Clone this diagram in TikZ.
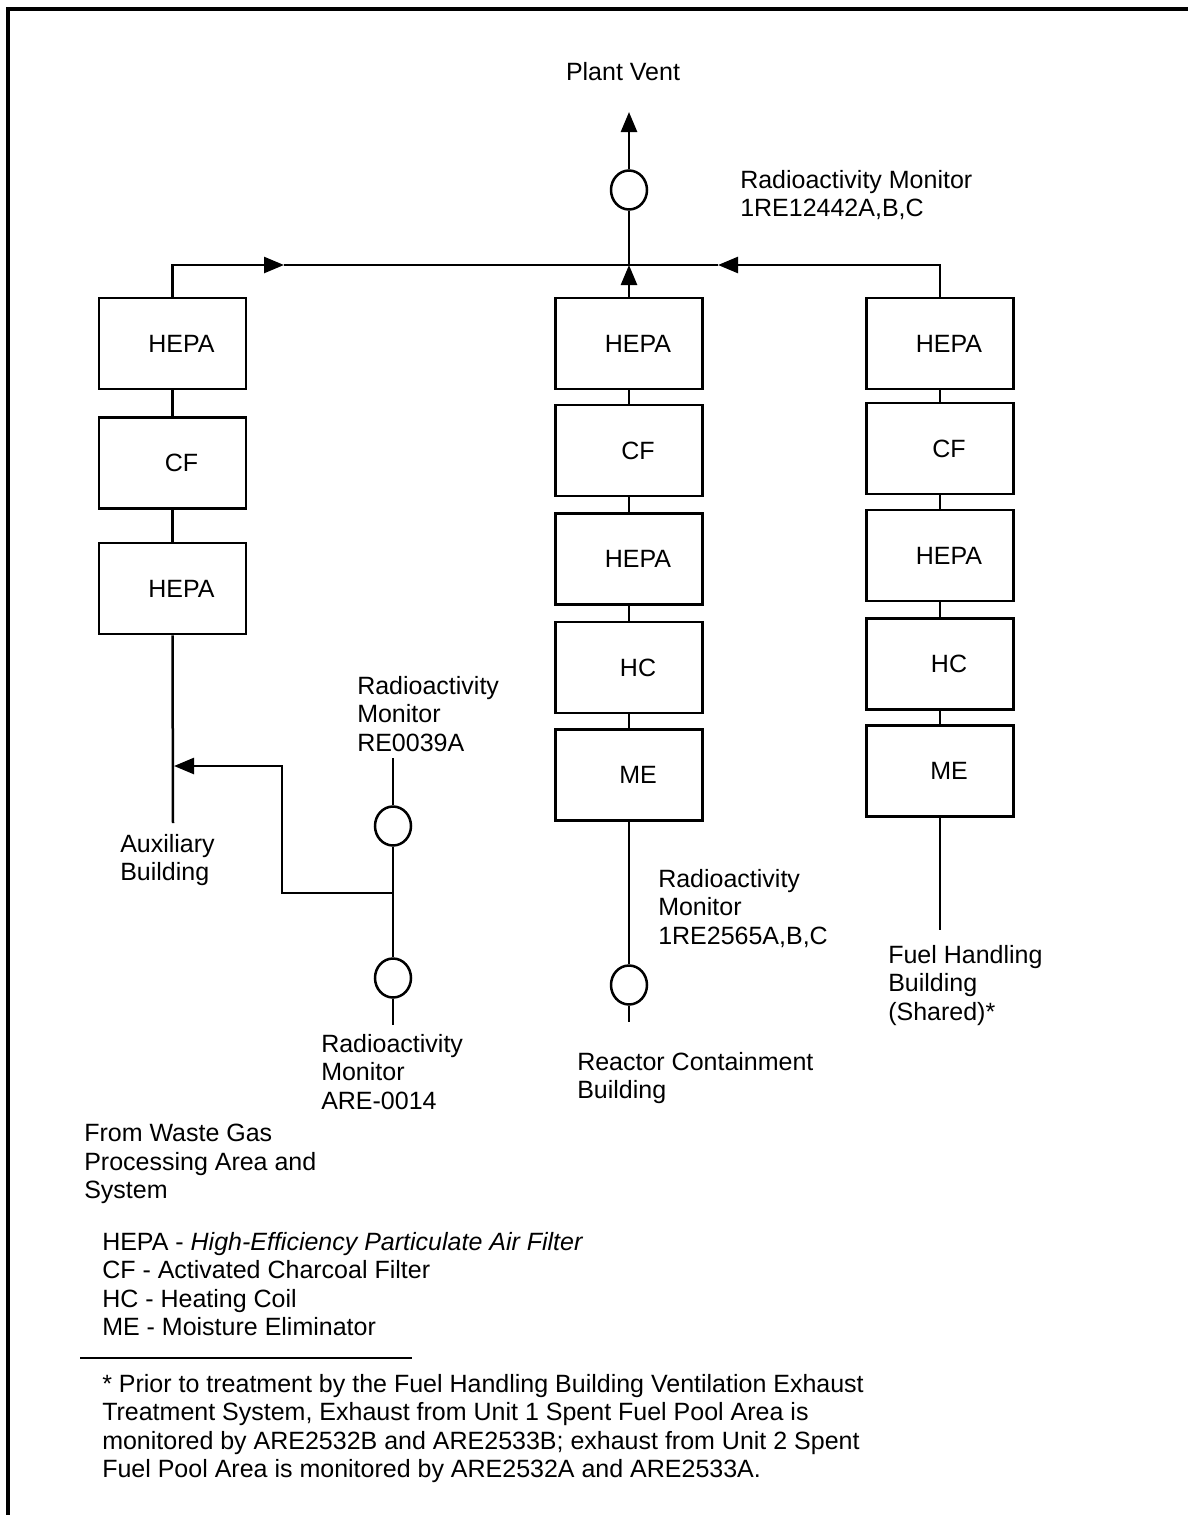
\documentclass[tikz,border=0pt]{standalone}
\usepackage{fontspec}
\setmainfont{Liberation Sans}
\usetikzlibrary{arrows.meta,shapes.geometric}
\begin{document}
\begin{tikzpicture}[x=0.5pt,y=-0.5pt,
  line width=1.25pt,
  txt/.style={font=\fontsize{12.5}{14.25}\selectfont},
  box/.style={draw,rectangle,minimum width=73.5pt,minimum height=45.5pt,inner sep=0pt,txt},
  mon/.style={draw,ellipse,minimum width=18pt,minimum height=19.5pt,inner sep=0pt},
  lbl/.style={anchor=north west,align=left,inner sep=0pt,txt},
  tri/.style={-{Triangle[length=10pt,width=8pt]}},
]
\useasboundingbox (0,0) rectangle (1188,1515);
% frame
\draw[line width=1.6pt] (8,1515) -- (8,9) -- (1188,9);

% left column
\node[box] (L1) at (172.5,343.5) {\hspace*{9pt}HEPA};
\node[box] (L2) at (172.5,463) {\hspace*{9pt}CF};
\node[box] (L3) at (172.5,588.5) {\hspace*{9pt}HEPA};
% center column
\node[box] (C1) at (629,343.5) {\hspace*{9pt}HEPA};
\node[box] (C2) at (629,450.5) {\hspace*{9pt}CF};
\node[box] (C3) at (629,559) {\hspace*{9pt}HEPA};
\node[box] (C4) at (629,667.5) {\hspace*{9pt}HC};
\node[box] (C5) at (629,775) {\hspace*{9pt}ME};
% right column
\node[box] (R1) at (940,343.5) {\hspace*{9pt}HEPA};
\node[box] (R2) at (940,448.5) {\hspace*{9pt}CF};
\node[box] (R3) at (940,555.5) {\hspace*{9pt}HEPA};
\node[box] (R4) at (940,664) {\hspace*{9pt}HC};
\node[box] (R5) at (940,771) {\hspace*{9pt}ME};

% monitors
\node[mon] (mtop) at (629,190) {};
\node[mon] (m39) at (393,826) {};
\node[mon] (m14) at (393,978) {};
\node[mon] (mrc) at (629,985) {};

% coordinates
\coordinate (jc) at (629,265);
\coordinate (vent) at (629,112);
\coordinate (aL) at (284,265);
\coordinate (aR) at (718,265);
\coordinate (auxend) at (173,823);
\coordinate (ta) at (174,766);
\coordinate (k1) at (282,766);
\coordinate (jm) at (393,893);
\coordinate (m39top) at (393,758);
\coordinate (m14bot) at (393,1025);
\coordinate (rcbot) at (629,1022);
\coordinate (fhend) at (940,930);

% column links
\draw (L1) -- (L2); \draw (L2) -- (L3);
\draw (C1) -- (C2); \draw (C2) -- (C3); \draw (C3) -- (C4); \draw (C4) -- (C5);
\draw (R1) -- (R2); \draw (R2) -- (R3); \draw (R3) -- (R4); \draw (R4) -- (R5);

% header
\draw[tri] (L1.north) |- (aL);
\draw (aL) -- (jc);
\draw[tri] (R1.north) |- (aR);
\draw (aR) -- (jc);
\draw[tri] (C1.north) -- (jc);
\draw (jc) -- (mtop.south);
\draw[tri] (mtop.north) -- (vent);

% auxiliary building
\draw (L3.south) -- (auxend);
\draw[tri] (jm) -| (k1) -- (ta);
\draw (m39top) -- (m39.north);
\draw (m39.south) -- (m14.north);
\draw (m14.south) -- (m14bot);

% reactor containment
\draw (C5.south) -- (mrc.north);
\draw (mrc.south) -- (rcbot);

% fuel handling
\draw (R5.south) -- (fhend);

% labels
\node[txt,anchor=north,inner sep=0pt] (tvent) at (623,61) {Plant Vent};
\node[lbl] (tm1) at (739,169) {Radioactivity Monitor\\1RE12442A,B,C};
\node[lbl] (tm39) at (356,675) {Radioactivity\\Monitor\\RE0039A};
\node[lbl] (taux) at (119,833) {Auxiliary\\Building};
\node[lbl] (tm14) at (320,1033) {Radioactivity\\Monitor\\ARE-0014};
\node[lbl] (tmrc) at (657,868) {Radioactivity\\Monitor\\1RE2565A,B,C};
\node[lbl] (trc) at (576,1051) {Reactor Containment\\Building};
\node[lbl] (tfh) at (887,944) {Fuel Handling\\Building\\(Shared)*};
\node[lbl] (twg) at (83,1123) {From Waste Gas\\Processing Area and\\System};
\node[lbl] (tleg) at (101,1231) {HEPA - \textit{High-Efficiency Particulate Air Filter}\\CF - Activated Charcoal Filter\\HC - Heating Coil\\ME - Moisture Eliminator};
\coordinate (r1) at (80,1358);
\coordinate (r2) at (412,1358);
\draw (r1) -- (r2);
\node[lbl] (tfoot) at (101,1373) {* Prior to treatment by the Fuel Handling Building Ventilation Exhaust\\Treatment System, Exhaust from Unit 1 Spent Fuel Pool Area is\\monitored by ARE2532B and ARE2533B; exhaust from Unit 2 Spent\\Fuel Pool Area is monitored by ARE2532A and ARE2533A.};
\end{tikzpicture}
\end{document}
